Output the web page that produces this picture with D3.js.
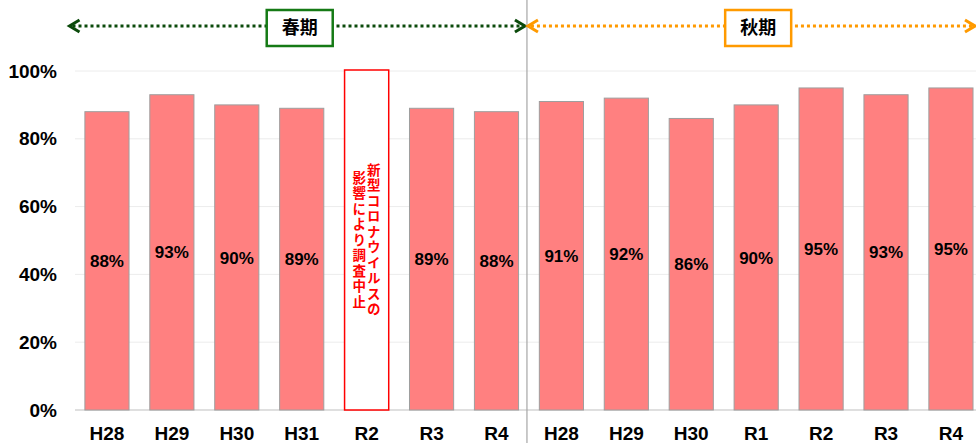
<!DOCTYPE html>
<html>
<head>
<meta charset="utf-8">
<script src="https://cdn.jsdelivr.net/npm/d3@7"></script>
<style>
  body { margin: 0; background: #fff; }
  svg { display: block; font-family: "Liberation Sans", Arial, sans-serif; }
</style>
</head>
<body>
<script>
var w = 976;
var h = 443;

// data
var springCats = ["H28", "H29", "H30", "H31", "R2", "R3", "R4"];
var springVals = [0.88, 0.93, 0.90, 0.89, null, 0.89, 0.88];
var autumnCats = ["H28", "H29", "H30", "R1", "R2", "R3", "R4"];
var autumnVals = [0.91, 0.92, 0.86, 0.90, 0.95, 0.93, 0.95];
var yTicks = [0, 0.2, 0.4, 0.6, 0.8, 1.0];
var periodNames = ["春期", "秋期"];
var noteLines = ["新型コロナウイルスの", "影響により調査中止"];

var rows = [];
springCats.forEach(function(c, i) { rows.push({key: "s" + c, label: c, v: springVals[i]}); });
autumnCats.forEach(function(c, i) { rows.push({key: "a" + c, label: c, v: autumnVals[i]}); });

var svg = d3.select("body").append("svg")
            .attr("width", w)
            .attr("height", h);

var x = d3.scaleBand()
          .domain(rows.map(function(d) { return d.key; }))
          .range([74.5, 983.4])
          .paddingInner(0.32)
          .paddingOuter(0.16);

var y = d3.scaleLinear().domain([0, 1]).range([410, 71]);

// gridlines
svg.append("g").selectAll("line")
   .data(yTicks)
   .enter().append("line")
   .attr("x1", 75)
   .attr("x2", w)
   .attr("y1", function(d) { return y(d); })
   .attr("y2", function(d) { return y(d); })
   .attr("stroke", function(d) { return d === 0 ? "#d4d4d4" : "#ececec"; })
   .attr("stroke-width", function(d) { return d === 0 ? 1.5 : 1; });

// y axis
var yAxis = svg.append("g")
   .attr("transform", "translate(57,0)")
   .call(d3.axisLeft(y).tickValues(yTicks).tickFormat(d3.format(".0%")).tickSize(0).tickPadding(0));
yAxis.select(".domain").remove();
yAxis.selectAll("text")
     .attr("font-size", "19px")
     .attr("font-weight", "bold")
     .attr("fill", "#000");

// x axis
var xAxis = svg.append("g")
   .attr("transform", "translate(0," + y(0) + ")")
   .call(d3.axisBottom(x).tickSize(0).tickPadding(17)
        .tickFormat(function(k) { return rows.find(function(r) { return r.key === k; }).label; }));
xAxis.select(".domain").remove();
xAxis.selectAll("text")
     .attr("font-size", "19px")
     .attr("font-weight", "bold")
     .attr("fill", "#000");

// bars
var withVal = rows.filter(function(d) { return d.v !== null; });
svg.append("g").selectAll("rect")
   .data(withVal)
   .enter().append("rect")
   .attr("x", function(d) { return x(d.key); })
   .attr("y", function(d) { return y(d.v); })
   .attr("width", x.bandwidth())
   .attr("height", function(d) { return y(0) - y(d.v); })
   .attr("fill", "#ff8080")
   .attr("stroke", "#9e9e9e")
   .attr("stroke-width", 1);

svg.append("g").selectAll("text")
   .data(withVal)
   .enter().append("text")
   .text(function(d) { return Math.round(d.v * 100) + "%"; })
   .attr("x", function(d) { return x(d.key) + x.bandwidth() / 2; })
   .attr("y", function(d) { return (y(d.v) + y(0)) / 2; })
   .attr("dy", "0.36em")
   .attr("text-anchor", "middle")
   .attr("font-size", "17px")
   .attr("font-weight", "bold")
   .attr("fill", "#000");

// suspended survey (spring R2)
var missing = rows.filter(function(d) { return d.v === null; });
missing.forEach(function(d) {
  var cx = x(d.key) + x.bandwidth() / 2;
  svg.append("rect")
     .attr("x", x(d.key))
     .attr("y", y(1) - 1)
     .attr("width", x.bandwidth())
     .attr("height", y(0) - y(1) + 1)
     .attr("fill", "#fff")
     .attr("stroke", "#ff0000")
     .attr("stroke-width", 1.5);
  noteLines.forEach(function(t, i) {
    svg.append("text")
       .text(t)
       .attr("x", cx + 7 - i * 14.5)
       .attr("y", (y(0) + y(1)) / 2)
       .attr("text-anchor", "middle")
       .style("writing-mode", "vertical-rl")
       .style("text-orientation", "upright")
       .attr("font-family", "'Noto Sans CJK JP', sans-serif")
       .attr("font-size", "13.5px")
       .attr("letter-spacing", "2px")
       .attr("font-weight", "bold")
       .attr("fill", "#ff0000");
  });
});

// divider between spring and autumn
var lastSpring = x("s" + springCats[springCats.length - 1]) + x.bandwidth() / 2;
var firstSpring = x("s" + springCats[0]) + x.bandwidth() / 2;
var firstAutumn = x("a" + autumnCats[0]) + x.bandwidth() / 2;
var lastAutumn = x("a" + autumnCats[autumnCats.length - 1]) + x.bandwidth() / 2;
var divX = (lastSpring + firstAutumn) / 2 - 2;
svg.append("line")
   .attr("x1", divX).attr("x2", divX)
   .attr("y1", 0).attr("y2", h)
   .attr("stroke", "#a6a6a6")
   .attr("stroke-width", 1.2);

// period headers
var arrowY = 26;
var periods = [
  {name: periodNames[0], x0: x.range()[0] - 5, x1: divX - 2, line: "#0b4a0b", box: "#157a15",
   mid: (firstSpring + lastSpring) / 2 - 2},
  {name: periodNames[1], x0: divX + 1, x1: w - 1, line: "#ff9a00", box: "#ff9a00",
   mid: (firstAutumn + lastAutumn) / 2 + 2}
];
periods.forEach(function(p) {
  var g = svg.append("g");
  g.append("line")
   .attr("x1", p.x0 + 3).attr("x2", p.x1 - 3)
   .attr("y1", arrowY).attr("y2", arrowY)
   .attr("stroke", p.line)
   .attr("stroke-width", 3)
   .attr("stroke-dasharray", "3,3");
  g.append("path")
   .attr("d", "M" + (p.x0 + 10) + "," + (arrowY - 6) + "L" + p.x0 + "," + arrowY + "L" + (p.x0 + 10) + "," + (arrowY + 6))
   .attr("fill", "none").attr("stroke", p.line).attr("stroke-width", 3);
  g.append("path")
   .attr("d", "M" + (p.x1 - 10) + "," + (arrowY - 6) + "L" + p.x1 + "," + arrowY + "L" + (p.x1 - 10) + "," + (arrowY + 6))
   .attr("fill", "none").attr("stroke", p.line).attr("stroke-width", 3);
  g.append("rect")
   .attr("x", p.mid - 33).attr("y", 10)
   .attr("width", 66).attr("height", 36)
   .attr("fill", "#fff")
   .attr("stroke", p.box)
   .attr("stroke-width", 2.5);
  g.append("text")
   .text(p.name)
   .attr("x", p.mid).attr("y", 28)
   .attr("dy", "0.36em")
   .attr("text-anchor", "middle")
   .attr("font-family", "'Noto Sans CJK JP', sans-serif")
   .attr("font-size", "18px")
   .attr("font-weight", "bold")
   .attr("fill", "#000");
});
</script>
</body>
</html>
